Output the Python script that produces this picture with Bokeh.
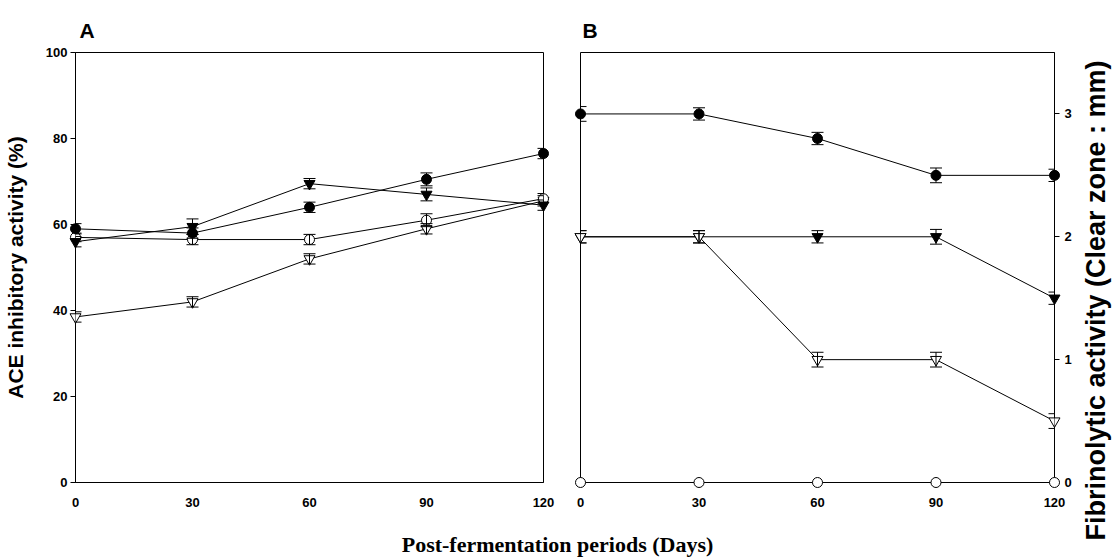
import math
from bokeh.plotting import figure
from bokeh.layouts import row, column
from bokeh.models import ColumnDataSource, Whisker, TeeHead, Label, Range1d, FixedTicker
from bokeh.embed import file_html
from bokeh.resources import INLINE

days = [0, 30, 60, 90, 120]

# Panel A: ACE inhibitory activity (%)
ace_filled_circle = [59.0, 58.0, 64.0, 70.5, 76.5]
ace_filled_circle_err = [1.2, 1.2, 1.2, 1.5, 1.2]
ace_filled_tri = [56.0, 59.5, 69.5, 67.0, 64.5]
ace_filled_tri_err = [1.2, 1.8, 1.2, 1.5, 1.2]
ace_open_circle = [57.0, 56.5, 56.5, 61.0, 66.0]
ace_open_circle_err = [1.0, 1.2, 1.2, 1.5, 1.2]
ace_open_tri = [38.5, 42.0, 52.0, 59.0, 65.5]
ace_open_tri_err = [1.2, 1.2, 1.2, 1.2, 1.2]

# Panel B: Fibrinolytic activity (Clear zone : mm)
fib_filled_circle = [3.0, 3.0, 2.8, 2.5, 2.5]
fib_filled_circle_err = [0.06, 0.05, 0.05, 0.06, 0.05]
fib_filled_tri = [2.0, 2.0, 2.0, 2.0, 1.5]
fib_filled_tri_err = [0.05, 0.05, 0.05, 0.06, 0.05]
fib_open_circle = [0.0, 0.0, 0.0, 0.0, 0.0]
fib_open_tri = [2.0, 2.0, 1.0, 1.0, 0.5]
fib_open_tri_err = [0.05, 0.05, 0.06, 0.06, 0.06]

x_ticks = [0, 30, 60, 90, 120]
ace_ticks = [0, 20, 40, 60, 80, 100]
fib_ticks = [0, 1, 2, 3]

TICK_FONT = "Liberation Sans"
TITLE_FONT = "Liberation Sans"
FIG_H = 512
TITLE_H = 45
WA = 560
WB = 514
WR = 38


def add_series(p, ys, errs, marker, filled, size):
    src = ColumnDataSource(dict(x=days, y=ys))
    p.line("x", "y", source=src, line_color="black", line_width=1, level="overlay")
    if errs is not None:
        esrc = ColumnDataSource(dict(x=days, lo=[a - b for a, b in zip(ys, errs)],
                                     hi=[a + b for a, b in zip(ys, errs)]))
        w = Whisker(base="x", lower="lo", upper="hi", source=esrc, line_color="black",
                    line_width=1, level="overlay",
                    upper_head=TeeHead(size=12, line_color="black", line_width=1),
                    lower_head=TeeHead(size=12, line_color="black", line_width=1))
        p.add_layout(w)
    p.scatter("x", "y", source=src, marker=marker, size=size, line_color="black",
              line_width=1, fill_color="black" if filled else "white", level="overlay")


def style_common(p, letter, offset):
    p.outline_line_color = "black"
    p.outline_line_width = 1
    p.xgrid.visible = False
    p.ygrid.visible = False
    p.background_fill_color = "white"
    p.border_fill_color = "white"
    p.title.text = letter
    p.title.align = "left"
    p.title.offset = offset
    p.title.standoff = 21
    p.title.text_font = TITLE_FONT
    p.title.text_font_style = "bold"
    p.title.text_font_size = "21px"
    p.title.text_color = "black"
    p.xaxis.ticker = FixedTicker(ticks=x_ticks)
    for ax in p.axis:
        ax.axis_line_color = "black"
        ax.major_tick_line_color = "black"
        ax.minor_tick_line_color = None
        ax.major_label_text_font = TICK_FONT
        ax.major_label_text_font_style = "bold"
        ax.major_label_text_font_size = "13px"
        ax.major_label_text_color = "black"
    p.xaxis.major_tick_out = 0
    p.xaxis.major_tick_in = 0
    p.xaxis.major_label_standoff = 15
    p.yaxis.major_tick_out = 5
    p.yaxis.major_tick_in = 0
    p.yaxis.axis_label_text_font = TITLE_FONT
    p.yaxis.axis_label_text_font_style = "bold"
    p.yaxis.axis_label_text_color = "black"


def blank(width, height):
    p = figure(width=width, height=height, output_backend="svg", toolbar_location=None,
               x_range=Range1d(0, 1), y_range=Range1d(0, 1),
               min_border=0, outline_line_color=None)
    p.axis.visible = False
    p.grid.visible = False
    return p


# ---------- Panel A ----------
pA = figure(width=WA, height=FIG_H, x_range=Range1d(0, 120), y_range=Range1d(0, 100),
            output_backend="svg", toolbar_location=None,
            min_border_left=74, min_border_right=17, min_border_top=52, min_border_bottom=30)
style_common(pA, "A", 4)
pA.yaxis.ticker = FixedTicker(ticks=ace_ticks)
pA.yaxis.major_label_standoff = 3
pA.yaxis.axis_label = "ACE inhibitory activity (%)"
pA.yaxis.axis_label_text_font_size = "21px"
pA.yaxis.axis_label_standoff = 16

add_series(pA, ace_open_tri, ace_open_tri_err, "inverted_triangle", False, 11)
add_series(pA, ace_open_circle, ace_open_circle_err, "circle", False, 10)
add_series(pA, ace_filled_tri, ace_filled_tri_err, "inverted_triangle", True, 11)
add_series(pA, ace_filled_circle, ace_filled_circle_err, "circle", True, 10)

# ---------- Panel B ----------
pB = figure(width=WB, height=FIG_H, x_range=Range1d(0, 120), y_range=Range1d(0, 3.5),
            output_backend="svg", toolbar_location=None, y_axis_location="right",
            min_border_left=20, min_border_right=19, min_border_top=52, min_border_bottom=30)
style_common(pB, "B", 2)
pB.yaxis.ticker = FixedTicker(ticks=fib_ticks)
pB.yaxis.major_label_standoff = 5

add_series(pB, fib_open_circle, None, "circle", False, 10)
add_series(pB, fib_filled_tri, fib_filled_tri_err, "inverted_triangle", True, 11)
add_series(pB, fib_open_tri, fib_open_tri_err, "inverted_triangle", False, 11)
add_series(pB, fib_filled_circle, fib_filled_circle_err, "circle", True, 10)

# ---------- right-side title for panel B ----------
pR = blank(WR, FIG_H + TITLE_H)
pR.add_layout(Label(x=21, y=(FIG_H + TITLE_H) - 300, x_units="screen", y_units="screen",
                    text="Fibrinolytic activity (Clear zone : mm)", angle=math.pi / 2,
                    text_font=TITLE_FONT, text_font_style="bold", text_font_size="27px",
                    text_color="black", text_align="center", text_baseline="middle"))

# ---------- shared x title ----------
pT = blank(WA + WB, TITLE_H)
pT.add_layout(Label(x=557, y=13, x_units="screen", y_units="screen",
                    text="Post-fermentation periods (Days)", text_font="Liberation Serif",
                    text_font_style="bold", text_font_size="22px", text_color="black",
                    text_align="center", text_baseline="middle"))

layout = row(column(row(pA, pB, spacing=0), pT, spacing=0), pR, spacing=0)
open("out.html", "w").write(file_html(layout, INLINE))
